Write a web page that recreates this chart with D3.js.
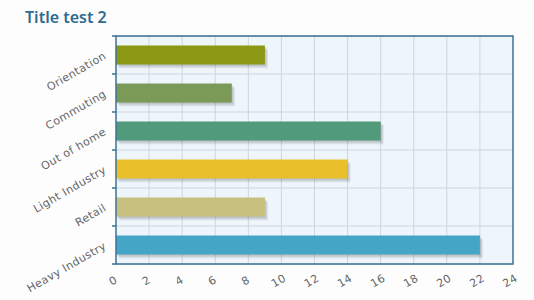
<!DOCTYPE html>
<html>
<head>
<meta charset="utf-8">
<script src="https://cdn.jsdelivr.net/npm/d3@7"></script>
<style>
  body { margin: 0; background: #fdfdfd; }
  svg { display: block; }
  .tick-label { font-family: "DejaVu Sans", sans-serif; font-size: 11px; fill: #666; letter-spacing: 0.4px; }
</style>
</head>
<body>
<svg id="chart" width="534" height="300"></svg>
<script>
// ===== DATOS =====
const categorias = ["Heavy Industry", "Retail", "Light Industry", "Out of home", "Commuting", "Orientation"];
const valores = [22, 9, 14, 16, 7, 9];
const colores = ["#45a5c7", "#c8c07e", "#e9bf2b", "#529a7c", "#7b9a58", "#8b9812"];
const ticksX = [0, 2, 4, 6, 8, 10, 12, 14, 16, 18, 20, 22, 24];
const titulo = "Title test 2";

// ===== ESCALAS =====
const area = { left: 116, right: 513, top: 36, bottom: 264 };
const svg = d3.select("#chart");

const x = d3.scaleLinear().domain([0, 24]).range([area.left, area.right]);
const y = d3.scaleBand().domain(categorias.slice().reverse()).range([area.top, area.bottom]);

// titulo
svg.append("text")
  .attr("x", 25).attr("y", 23)
  .attr("font-family", "Noto Sans, sans-serif")
  .attr("font-size", 16)
  .attr("font-weight", 600)
  .attr("fill", "#2f6b8f")
  .text(titulo);

// fondo
svg.append("rect")
  .attr("x", area.left).attr("y", area.top)
  .attr("width", area.right - area.left).attr("height", area.bottom - area.top)
  .attr("fill", "#eef6fc");

// grid vertical
svg.append("g").selectAll("line")
  .data(ticksX.slice(1, -1))
  .join("line")
  .attr("x1", d => x(d)).attr("x2", d => x(d))
  .attr("y1", area.top).attr("y2", area.bottom)
  .attr("stroke", "#cfd6da").attr("stroke-width", 1);

// grid horizontal
const bordes = categorias.map(c => y(c)).concat([area.bottom]);
svg.append("g").selectAll("line")
  .data(bordes)
  .join("line")
  .attr("x1", area.left).attr("x2", area.right)
  .attr("y1", d => d).attr("y2", d => d)
  .attr("stroke", "#cfd6da").attr("stroke-width", 1);

// barras
const altoBarra = 19;
const barras = svg.append("g");
categorias.forEach((c, i) => {
  const yc = y(c) + y.bandwidth() / 2 - altoBarra / 2;
  // sombra
  for (let k = 4; k >= 1; k--) {
    barras.append("rect")
      .attr("x", x(0) + k * 0.8).attr("y", yc + k)
      .attr("width", x(valores[i]) - x(0)).attr("height", altoBarra)
      .attr("fill", "#000").attr("opacity", 0.06);
  }
  barras.append("rect")
    .attr("x", x(0)).attr("y", yc)
    .attr("width", x(valores[i]) - x(0)).attr("height", altoBarra)
    .attr("fill", colores[i]);
});

// borde
svg.append("rect")
  .attr("x", area.left).attr("y", area.top)
  .attr("width", area.right - area.left).attr("height", area.bottom - area.top)
  .attr("fill", "none").attr("stroke", "#3d7192").attr("stroke-width", 1.5);

// ticks eje y
svg.append("g").selectAll("line")
  .data(bordes)
  .join("line")
  .attr("x1", area.left - 4).attr("x2", area.left)
  .attr("y1", d => d).attr("y2", d => d)
  .attr("stroke", "#3d7192").attr("stroke-width", 1.5);

// etiquetas eje y
svg.append("g").selectAll("text")
  .data(categorias)
  .join("text")
  .attr("class", "tick-label")
  .attr("text-anchor", "end")
  .attr("transform", d => `translate(${area.left - 9},${y(d) + y.bandwidth() / 2 + 3}) rotate(-30)`)
  .text(d => d);

// etiquetas eje x
svg.append("g").selectAll("text")
  .data(ticksX)
  .join("text")
  .attr("class", "tick-label")
  .attr("text-anchor", "middle")
  .attr("transform", d => `translate(${x(d) - 1},${area.bottom + 20}) rotate(-30)`)
  .text(d => d);
</script>
</body>
</html>
